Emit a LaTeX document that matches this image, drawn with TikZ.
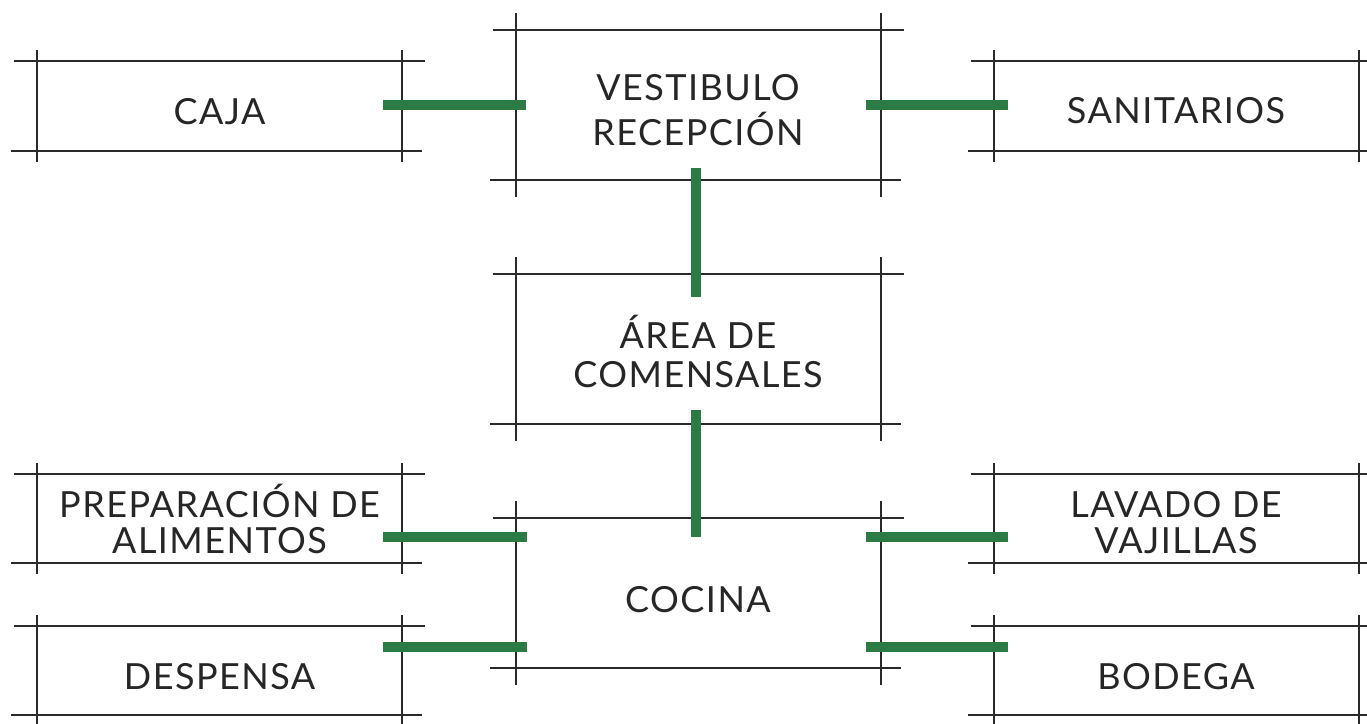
\documentclass[tikz,border=0pt]{standalone}
\usepackage{fontspec}
\setmainfont{Lato}
\usetikzlibrary{calc}
\definecolor{linegray}{RGB}{42,42,42}
\definecolor{txtgray}{RGB}{38,38,38}
\definecolor{linkgreen}{RGB}{44,122,68}
\newcommand\roomlabel[3]{\raisebox{#1pt}[0pt][0pt]{\fontsize{36}{#2}\selectfont\addfontfeature{LetterSpace=4}\begin{tabular}[t]{@{}c@{}}#3\end{tabular}}}
\newcommand\archframe[2]{%
  \draw[frameline] ([xshift=-23pt]#1.north west) -- ([xshift=23pt]#1.north east);
  \draw[frameline] ([xshift=-26pt]#1.south west) -- ([xshift=20pt]#1.south east);
  \draw[frameline] ([yshift=#2pt]#1.north west) -- ([yshift=-#2pt]#1.south west);
  \draw[frameline] ([yshift=#2pt]#1.north east) -- ([yshift=-#2pt]#1.south east);}
\tikzset{
  room/.style={rectangle, inner sep=0pt, outer sep=0pt, text=txtgray, minimum width=365pt},
  sideroom/.style={room, minimum height=89pt},
  mainroom/.style={room, minimum height=150pt},
  frameline/.style={draw=linegray, line width=2pt},
  link/.style={draw=linkgreen, line width=9.5pt, line cap=butt}
}
\begin{document}
\begin{tikzpicture}[x=1pt, y=-1pt]
\fill[white] (0,0) rectangle (1367,723);
\useasboundingbox (0,0) rectangle (1367,723);
\clip (0,0) rectangle (1367,723);
% rooms
\node[sideroom, minimum height=90pt] (caja) at (219.5,106) {\roomlabel{-18}{40}{CAJA}};
\node[sideroom, minimum height=90pt] (sanit) at (1176,106) {\roomlabel{-17}{40}{SANITARIOS}};
\node[mainroom] (vest) at (698,105) {\roomlabel{5}{41}{VESTIBULO\\RECEPCIÓN}};
\node[mainroom] (area) at (698,349) {\roomlabel{1}{39}{ÁREA DE\\COMENSALES}};
\node[mainroom] (cocina) at (698,593) {\roomlabel{-19}{40}{COCINA}};
\node[sideroom] (prep) at (219.5,518.5) {\roomlabel{1.5}{36}{PREPARACIÓN DE\\ALIMENTOS}};
\node[sideroom] (desp) at (219.5,670.5) {\roomlabel{-18.5}{36}{DESPENSA}};
\node[sideroom] (lavado) at (1176,518.5) {\roomlabel{1.5}{36}{LAVADO DE\\VAJILLAS}};
\node[sideroom] (bodega) at (1176,670.5) {\roomlabel{-18.5}{36}{BODEGA}};
% frames
\archframe{caja}{11}
\archframe{sanit}{11}
\archframe{prep}{11}
\archframe{desp}{11}
\archframe{lavado}{11}
\archframe{bodega}{11}
\archframe{vest}{17}
\archframe{area}{17}
\archframe{cocina}{17}
% connectors
\draw[link] ($(caja.east|-0,105)+(-19,0)$) -- ($(vest.west|-0,105)+(10,0)$);
\draw[link] ($(vest.east|-0,105)+(-15,0)$) -- ($(sanit.west|-0,105)+(14,0)$);
\draw[link] ($(vest.south)+(-2,-12)$) -- ($(area.north)+(-2,23)$);
\draw[link] ($(area.south)+(-2,-14)$) -- ($(cocina.north)+(-2,19)$);
\draw[link] ($(prep.east|-0,537)+(-19,0)$) -- ($(cocina.west|-0,537)+(11,0)$);
\draw[link] ($(desp.east|-0,647)+(-19,0)$) -- ($(cocina.west|-0,647)+(11,0)$);
\draw[link] ($(cocina.east|-0,537)+(-15,0)$) -- ($(lavado.west|-0,537)+(14,0)$);
\draw[link] ($(cocina.east|-0,647)+(-15,0)$) -- ($(bodega.west|-0,647)+(14,0)$);
\end{tikzpicture}
\end{document}
